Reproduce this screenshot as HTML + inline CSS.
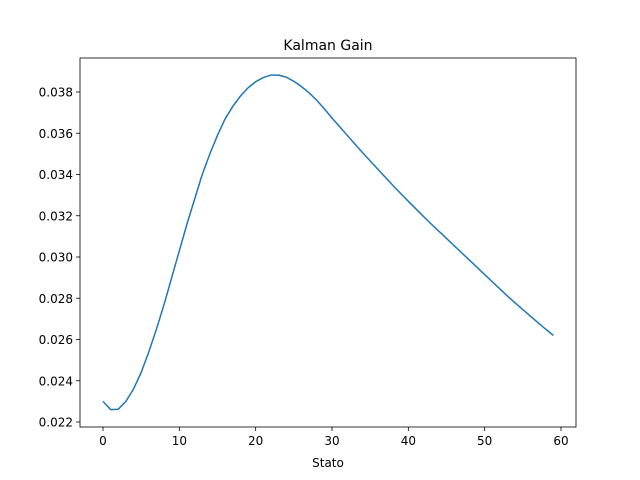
<!DOCTYPE html>
<html><head><meta charset="utf-8"><style>body{margin:0;background:#fff}svg{display:block;font-family:"DejaVu Sans","Liberation Sans",sans-serif}</style></head>
<body>
<svg id="chart" width="640" height="480"></svg>
<script>
const xTicks=[0,10,20,30,40,50,60];
const yTicks=[0.022,0.024,0.026,0.028,0.030,0.032,0.034,0.036,0.038];
const gainValues=[0.0230,0.02260,0.02262,0.0230,0.0236,0.0244,0.0254,0.0265,0.0277,0.0290,
0.0303,0.0316,0.0328,0.0340,0.0350,0.0359,0.0367,0.0373,0.0378,0.0382,
0.0385,0.0387,0.03882,0.03882,0.03872,0.03852,0.03826,0.03796,0.0376,0.03718,
0.03674,0.03632,0.0359,0.03548,0.03506,0.03466,0.03426,0.03386,0.03346,0.03308,
0.0327,0.03233,0.03196,0.0316,0.03125,0.0309,0.03055,0.0302,0.02985,0.0295,
0.02915,0.0288,0.02845,0.0281,0.02777,0.02745,0.02713,0.02681,0.0265,0.0262];
const NS='http://www.w3.org/2000/svg';
const svg=document.getElementById('chart');
const L=80,R=576,T=58,B=427;
const xs=v=>103+v*(561-103)/60;
const ys=v=>422-(v-0.022)*(422-92)/0.016;
function mk(t,a,txt){const e=document.createElementNS(NS,t);for(const k in a)e.setAttribute(k,a[k]);if(txt!=null)e.textContent=txt;svg.appendChild(e);return e;}
let e=mk('text',{x:328,y:50,'text-anchor':'middle','font-size':14},'Kalman Gain');


xTicks.forEach(t=>{const x=xs(t);
 let l=mk('line',{x1:x,x2:x,y1:B,y2:B+4,stroke:'#000','stroke-width':0.8});
 
 
 let tx=mk('text',{x:x,y:B+18,'text-anchor':'middle','font-size':12},t);
 
 });
yTicks.forEach(t=>{const y=ys(t);
 let l=mk('line',{x1:L-4,x2:L,y1:y,y2:y,stroke:'#000','stroke-width':0.8});
 
 
 let tx=mk('text',{x:L-7,y:y+4.5,'text-anchor':'end','font-size':12},t.toFixed(3));
 
 });
e=mk('text',{x:(L+R)/2,y:467,'text-anchor':'middle','font-size':12},'Stato');


const pts=gainValues.map((v,i)=>xs(i).toFixed(2)+','+ys(v).toFixed(2)).join(' ');
e=mk('polyline',{points:pts,fill:'none',stroke:'#1f77b4','stroke-width':1.5,'stroke-linejoin':'round'});


e=mk('rect',{x:L,y:T,width:R-L,height:B-T,fill:'none',stroke:'#000','stroke-width':0.8});


</script>
</body></html>
